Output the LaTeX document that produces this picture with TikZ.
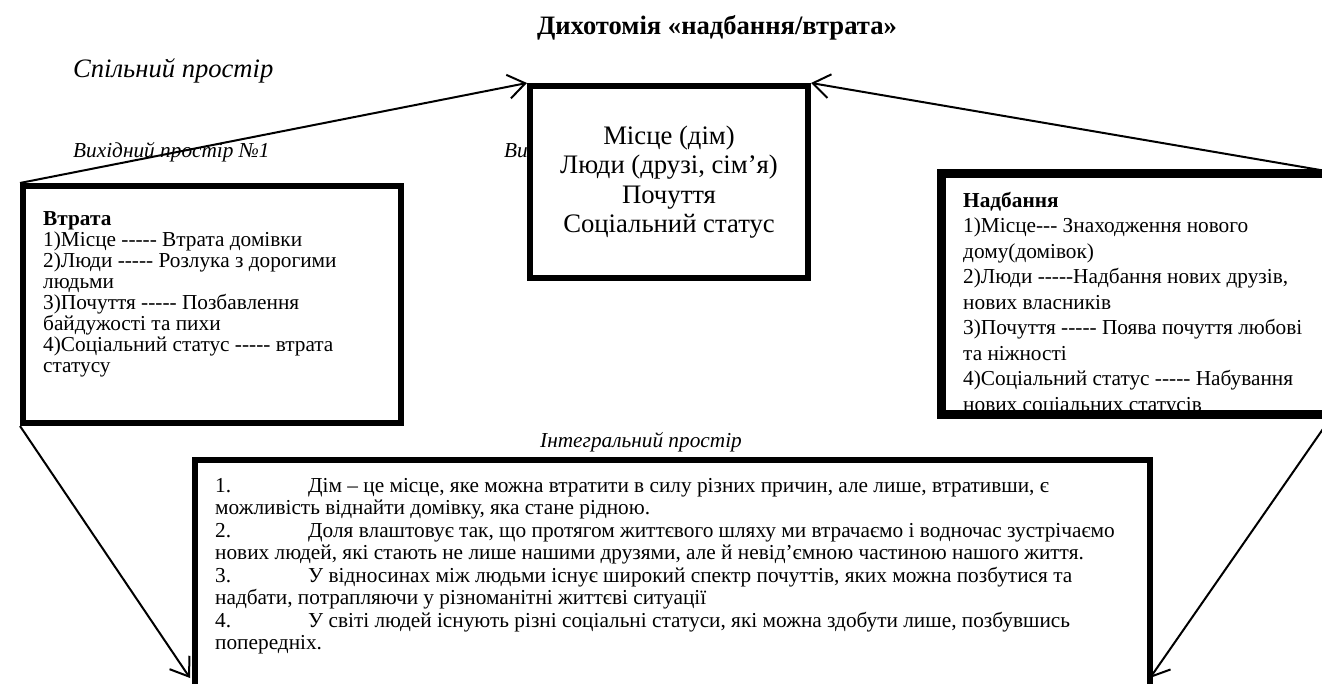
\documentclass[tikz,border=0pt]{standalone}
\usepackage{fontspec}
\newfontfamily\tnrfont{Liberation Serif}
\usetikzlibrary{arrows.meta}
\tikzset{
  box/.style={draw,line width=6pt,fill=white,inner sep=0pt,anchor=north west},
  arr/.style={line width=2pt,-{Straight Barb[length=17pt,width=24pt,line width=2pt]}},
  boxtext/.style={anchor=base west,align=left,inner sep=0pt,font=\tnrfont\fontsize{21.3}{21}\selectfont},
  label/.style={anchor=base west,inner sep=0pt,font=\tnrfont\itshape\fontsize{21.3}{24}\selectfont}
}
\begin{document}
\begin{tikzpicture}[x=1pt,y=-1pt]
\useasboundingbox (0,0) rectangle (1322,684);
\node[anchor=base,font=\tnrfont\bfseries\fontsize{26.6}{30}\selectfont] (title) at (717,35) {Дихотомія «надбання/втрата»};
\node[label,font=\tnrfont\itshape\fontsize{26.6}{30}\selectfont] (shared) at (73,78) {Спільний простір};
\node[label] (input1) at (73,158) {Вихідний простір №1};
\node[label] (input2) at (504,158) {Ви};
\node[label] (blend) at (540,447) {Інтегральний простір};
\node[box,minimum width=278pt,minimum height=192pt,align=center,font=\tnrfont\fontsize{26.7}{29.5}\selectfont] (common) at (527,83)
  {Місце (дім)\\Люди (друзі, сім’я)\\Почуття\\Соціальний статус};
\node[box,minimum width=378pt,minimum height=237pt] (loss) at (20,183) {};
\node[boxtext] (losstext) at (43,373) {\textbf{Втрата}\\
  1)Місце ----- Втрата домівки\\
  2)Люди ----- Розлука з дорогими\\
  людьми\\
  3)Почуття ----- Позбавлення\\
  байдужості та пихи\\
  4)Соціальний статус ----- втрата\\
  статусу};
\node[box,minimum width=386pt,minimum height=238pt] (gain) at (940,172) {};
\begin{scope}
\clip (gain.north west) rectangle ([yshift=-4pt]gain.south east);
\node[boxtext,font=\tnrfont\fontsize{21.3}{25.5}\selectfont] (gaintext) at (963,411) {\textbf{Надбання}\\
  1)Місце--- Знаходження нового\\
  дому(домівок)\\
  2)Люди -----Надбання нових друзів,\\
  нових власників\\
  3)Почуття ----- Поява почуття любові\\
  та ніжності\\
  4)Соціальний статус ----- Набування\\
  нових соціальних статусів};
\end{scope}
\draw[line width=6pt] (gain.south west) rectangle (gain.north east);
\node[box,minimum width=955pt,minimum height=250pt] (integ) at (192,457) {};
\node[boxtext,font=\tnrfont\fontsize{21.3}{22.5}\selectfont] (integtext) at (215,649.5) {%
  \makebox[93pt][l]{1.}Дім – це місце, яке можна втратити в силу різних причин, але лише, втративши, є\\
  можливість віднайти домівку, яка стане рідною.\\
  \makebox[93pt][l]{2.}Доля влаштовує так, що протягом життєвого шляху ми втрачаємо і водночас зустрічаємо\\
  нових людей, які стають не лише нашими друзями, але й невід’ємною частиною нашого життя.\\
  \makebox[93pt][l]{3.}У відносинах між людьми існує широкий спектр почуттів, яких можна позбутися та\\
  надбати, потрапляючи у різноманітні життєві ситуації\\
  \makebox[93pt][l]{4.}У світі людей існують різні соціальні статуси, які можна здобути лише, позбувшись\\
  попередніх.};
\coordinate (inL) at (190,678);
\coordinate (inR) at (1150,678);
\foreach \a/\b in {loss.north west/common.north west,gain.north east/common.north east,loss.south west/inL,gain.south east/inR}
  \draw[arr] (\a) -- (\b);
\end{tikzpicture}
\end{document}
